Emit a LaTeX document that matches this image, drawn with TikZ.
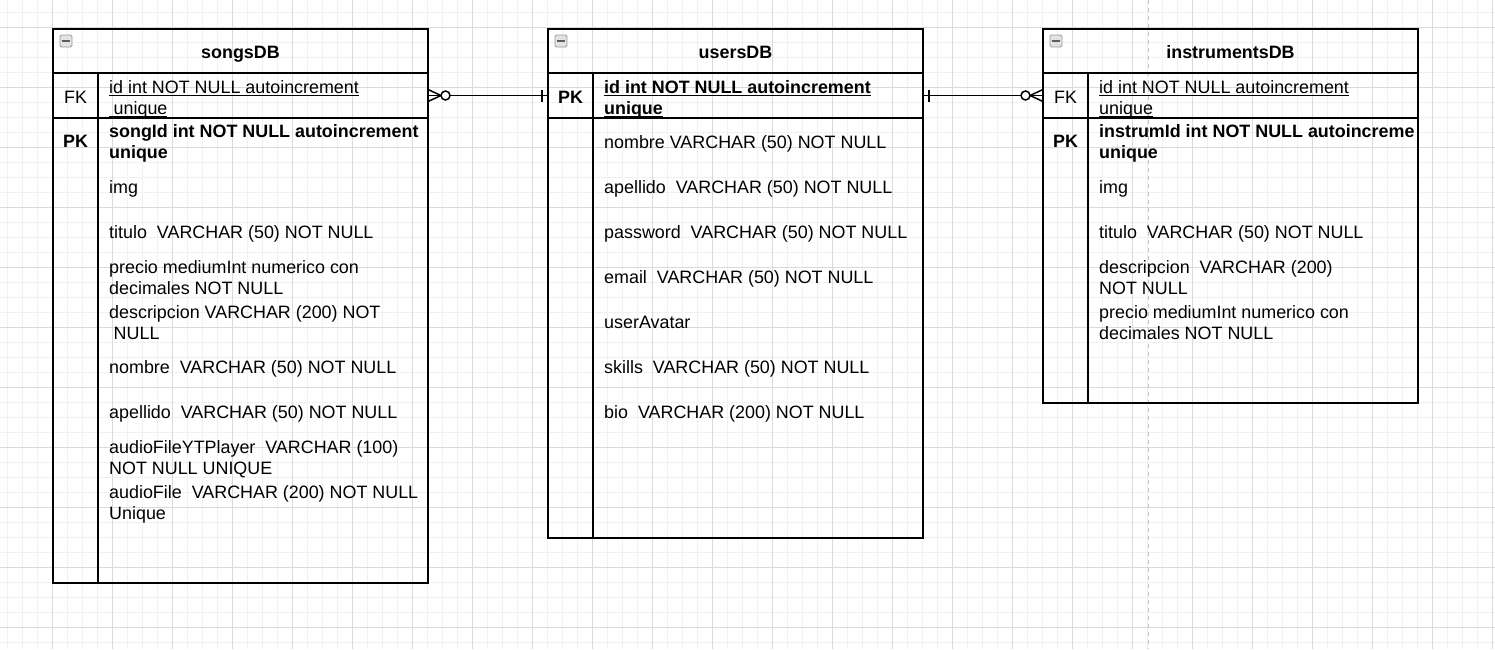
\documentclass[tikz,border=0pt]{standalone}
\usepackage{fontspec}
\setmainfont{Liberation Sans}
\usetikzlibrary{positioning,calc}
\definecolor{cmenor}{HTML}{F1F1F1}
\definecolor{cmayor}{HTML}{DADADA}
\definecolor{cguia}{HTML}{C4C4C4}
\definecolor{cicono}{HTML}{9A9A9A}
\newcommand{\subr}[1]{\setbox0\hbox{#1}\rlap{\rule[-3pt]{\wd0}{1.2pt}}\box0}
\tikzset{
  tabla/.style={rectangle, draw=black, line width=1.5pt, outer sep=0pt,
    minimum width=375pt, inner sep=0pt},
  fila/.style={rectangle, draw=black, line width=1.4pt, outer sep=0pt,
    minimum width=375pt, minimum height=45pt, inner sep=0pt},
  titulo/.style={anchor=base, inner sep=0pt, font=\fontsize{17.9}{21}\selectfont\bfseries},
  clave/.style={anchor=base, inner sep=0pt, font=\fontsize{17.9}{21}\selectfont},
  texto/.style={anchor=north west, inner sep=0pt, align=left,
    font=\fontsize{17.9}{21}\selectfont, execute at begin node=\strut},
  icono/.style={rectangle, rounded corners=1.5pt, draw=cicono, fill=gray!22,
    minimum size=12pt, inner sep=0pt, line width=0.8pt},
  linea/.style={draw=black, line width=1.4pt},
  rel/.style={draw=black, line width=1.5pt},
}
\begin{document}
\begin{tikzpicture}[x=1pt, y=-1pt]
  \useasboundingbox (0,0) rectangle (1495,649);
  % fondo cuadriculado
  \foreach \x in {7,22,...,1492} \draw[cmenor, line width=1pt] (\x,0) -- (\x,649);
  \foreach \y in {12,27,...,642} \draw[cmenor, line width=1pt] (0,\y) -- (1495,\y);
  \foreach \x in {52,112,...,1492} \draw[cmayor, line width=1pt] (\x,0) -- (\x,649);
  \foreach \y in {27,87,...,627} \draw[cmayor, line width=1pt] (0,\y) -- (1495,\y);
  \draw[cguia, line width=1pt, dash pattern=on 4pt off 4pt] (1148,0) -- (1148,649);

  % songsDB
  \node[tabla, minimum height=554pt] (songs) at (240.5,306) {};
  \node[fila] (songsfk) at (240.5,95.5) {};
  \draw[linea] ($(songsfk.north west)+(45,0)$) -- ($(songs.south west)+(45,0)$);
  \node[icono] (songsico) at (66,41) {};
  \draw[cicono!60!black, line width=1.4pt] ($(songsico.west)+(2.5,0)$) -- ($(songsico.east)+(-2.5,0)$);
  \node[titulo] (songstit) at (240.5,58.4) {songsDB};
  \node[clave] (songsfkl) at (75.5,103.4) {FK};
  \node[clave, font=\fontsize{17.9}{21}\selectfont\bfseries] (songspkl) at (75.5,147.4) {PK};
  \node[texto] (s1) at (109,80.3) {\subr{id int NOT NULL autoincrement}\\\subr{\hspace{4.5pt}unique}};
  \node[texto, font=\fontsize{17.9}{21}\selectfont\bfseries] (s2) at (109,124.3) {songId int NOT NULL autoincrement\\unique};
  \node[texto] (s3) at (109,178.3) {img};
  \node[texto] (s4) at (109,223.3) {titulo~ VARCHAR (50) NOT NULL};
  \node[texto] (s5) at (109,260.3) {precio mediumInt numerico con\\decimales NOT NULL};
  \node[texto] (s6) at (109,305.3) {descripcion VARCHAR (200) NOT\\\hspace{4.5pt}NULL};
  \node[texto] (s7) at (109,358.3) {nombre~ VARCHAR (50) NOT NULL};
  \node[texto] (s8) at (109,403.3) {apellido~ VARCHAR (50) NOT NULL};
  \node[texto] (s9) at (109,440.3) {audioFileYTPlayer~ VARCHAR (100)\\NOT NULL UNIQUE};
  \node[texto] (s10) at (109,485.3) {audioFile~ VARCHAR (200) NOT NULL\\Unique};

  % usersDB
  \node[tabla, minimum height=509pt] (users) at (735.5,283.5) {};
  \node[fila] (userspk) at (735.5,95.5) {};
  \draw[linea] ($(userspk.north west)+(45,0)$) -- ($(users.south west)+(45,0)$);
  \node[icono] (usersico) at (561,41) {};
  \draw[cicono!60!black, line width=1.4pt] ($(usersico.west)+(2.5,0)$) -- ($(usersico.east)+(-2.5,0)$);
  \node[titulo] (userstit) at (735.5,58.4) {usersDB};
  \node[clave, font=\fontsize{17.9}{21}\selectfont\bfseries] (userspkl) at (570.5,103.4) {PK};
  \node[texto, font=\fontsize{17.9}{21}\selectfont\bfseries] (u1) at (604,80.3) {\subr{id int NOT NULL autoincrement}\\\subr{unique}};
  \node[texto] (u2) at (604,133.3) {nombre VARCHAR (50) NOT NULL};
  \node[texto] (u3) at (604,178.3) {apellido~ VARCHAR (50) NOT NULL};
  \node[texto] (u4) at (604,223.3) {password~ VARCHAR (50) NOT NULL};
  \node[texto] (u5) at (604,268.3) {email~ VARCHAR (50) NOT NULL};
  \node[texto] (u6) at (604,313.3) {userAvatar};
  \node[texto] (u7) at (604,358.3) {skills~ VARCHAR (50) NOT NULL};
  \node[texto] (u8) at (604,403.3) {bio~ VARCHAR (200) NOT NULL};

  % instrumentsDB
  \node[tabla, minimum height=374pt] (instr) at (1230.5,216) {};
  \node[fila] (instrfk) at (1230.5,95.5) {};
  \draw[linea] ($(instrfk.north west)+(45,0)$) -- ($(instr.south west)+(45,0)$);
  \node[icono] (instrico) at (1056,41) {};
  \draw[cicono!60!black, line width=1.4pt] ($(instrico.west)+(2.5,0)$) -- ($(instrico.east)+(-2.5,0)$);
  \node[titulo] (instrtit) at (1230.5,58.4) {instrumentsDB};
  \node[clave] (instrfkl) at (1065.5,103.4) {FK};
  \node[clave, font=\fontsize{17.9}{21}\selectfont\bfseries] (instrpkl) at (1065.5,147.4) {PK};
  \node[texto] (i1) at (1099,80.3) {\subr{id int NOT NULL autoincrement}\\\subr{unique}};
  \node[texto, font=\fontsize{17.9}{21}\selectfont\bfseries] (i2) at (1099,124.3) {instrumId int NOT NULL autoincreme\\unique};
  \node[texto] (i3) at (1099,178.3) {img};
  \node[texto] (i4) at (1099,223.3) {titulo~ VARCHAR (50) NOT NULL};
  \node[texto] (i5) at (1099,260.3) {descripcion~ VARCHAR (200)\\NOT NULL};
  \node[texto] (i6) at (1099,305.3) {precio mediumInt numerico con\\decimales NOT NULL};

  % relaciones
  \draw[rel] (songsfk.east) -- (userspk.west);
  \draw[rel] ($(songsfk.east)+(0,-6)$) -- ($(songsfk.east)+(13,0)$) -- ($(songsfk.east)+(0,6)$);
  \draw[rel, fill=white] ($(songsfk.east)+(17.5,0)$) circle (4.5);
  \draw[rel] ($(userspk.west)+(-6,-6)$) -- ($(userspk.west)+(-6,6)$);
  \draw[rel] (userspk.east) -- (instrfk.west);
  \draw[rel] ($(userspk.east)+(6,-6)$) -- ($(userspk.east)+(6,6)$);
  \draw[rel] ($(instrfk.west)+(0,-6)$) -- ($(instrfk.west)+(-13,0)$) -- ($(instrfk.west)+(0,6)$);
  \draw[rel, fill=white] ($(instrfk.west)+(-17.5,0)$) circle (4.5);
\end{tikzpicture}
\end{document}
